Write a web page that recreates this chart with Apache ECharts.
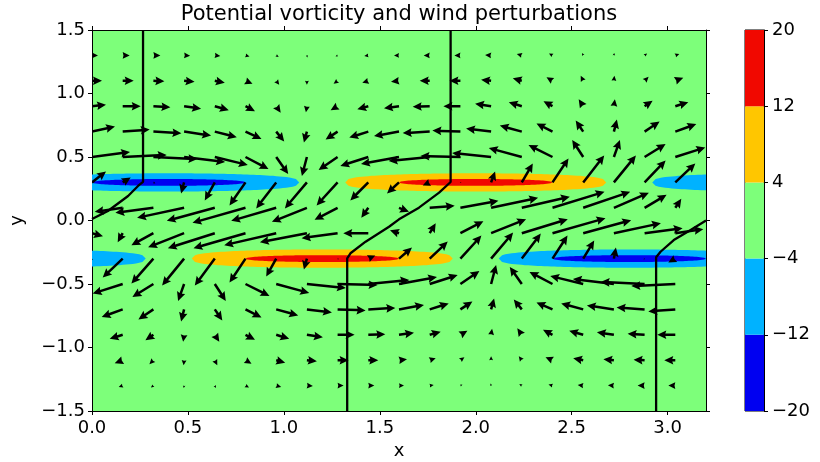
<!DOCTYPE html>
<html>
<head>
<meta charset="utf-8">
<script src="https://cdn.jsdelivr.net/npm/echarts@6/dist/echarts.min.js"></script>
<style>
  html, body { margin: 0; padding: 0; background: #fff; }
  #main { width: 820px; height: 462px; }
</style>
</head>
<body>
<div id="main"></div>
<script>
// grid of the quiver (tails of the arrows)
var gridX = [0, 0.16, 0.32, 0.48, 0.64, 0.80, 0.96, 1.12, 1.28, 1.44, 1.60, 1.76, 1.92, 2.08, 2.24, 2.40, 2.56, 2.72, 2.88, 3.04];
var gridY = [1.3, 1.1, 0.9, 0.7, 0.5, 0.3, 0.1, -0.1, -0.3, -0.5, -0.7, -0.9, -1.1, -1.3];

// wind perturbation, one row per gridY value
var windU = [
  [0.6, 0.7, 0.7, 0.6, 0.55, 0.4, 0.25, 0.05, -0.2, -0.4, -0.5, -0.6, -0.6, -0.6, -0.5, -0.35, -0.1, 0.03, 0.25, 0.4],
  [1.0, 1.1, 1.1, 1.05, 1.0, 0.7, 0.3, 0, -0.4, -0.6, -0.8, -1.0, -1.1, -1.0, -0.9, -0.6, -0.25, 0.05, 0.4, 0.8],
  [1.4, 1.8, 1.7, 1.7, 1.4, 0.95, 0.45, -0.1, -0.7, -1.1, -1.5, -1.7, -1.7, -1.6, -1.3, -0.9, -0.45, 0.1, 0.8, 1.3],
  [2.3, 2.7, 2.8, 2.7, 2.2, 1.6, 0.8, -0.3, -1.2, -1.9, -2.5, -2.7, -2.8, -2.5, -2.2, -1.6, -0.75, 0.3, 1.5, 2.1],
  [3.8, 4.4, 4.4, 4.1, 3.3, 2.3, 1.2, -0.5, -1.9, -2.8, -3.8, -4.1, -4.0, -3.9, -3.3, -2.4, -1.1, 0.6, 2.1, 3.0],
  [1.4, 0.8, 0.2, -0.3, -1.0, -1.6, -2.0, -2.2, -2.1, -1.8, -1.2, -0.7, 0.1, 0.4, 1.1, 1.6, 2.1, 2.2, 2.1, 2.0],
  [-1.1, -2.8, -3.8, -4.7, -4.8, -5.3, -4.5, -3.5, -2.3, -0.7, 1.0, 2.5, 3.8, 4.7, 4.8, 5.2, 4.7, 3.5, 2.2, 0.6],
  [1.1, -0.5, -2.2, -3.6, -4.7, -5.2, -5.2, -4.7, -3.6, -2.5, -0.9, 0.6, 2.3, 3.5, 4.6, 5.3, 4.8, 4.7, 3.8, 2.8],
  [-1.4, -2.0, -2.2, -2.2, -2.0, -1.6, -1.0, -0.3, 0.1, 0.7, 1.3, 1.8, 2.1, 2.2, 1.9, 1.5, 1.1, 0.2, -0.1, -0.7],
  [-3.8, -3.0, -2.1, -0.6, 1.1, 2.4, 3.3, 3.9, 4.0, 4.1, 3.8, 2.8, 1.9, 0.5, -1.2, -2.3, -3.3, -4.1, -4.4, -4.4],
  [-2.3, -2.1, -1.5, -0.3, 0.75, 1.6, 2.2, 2.5, 2.8, 2.7, 2.5, 1.9, 1.2, 0.3, -0.8, -1.6, -2.2, -2.7, -2.8, -2.7],
  [-1.4, -1.3, -0.8, -0.1, 0.45, 0.95, 1.3, 1.6, 1.7, 1.7, 1.5, 1.1, 0.7, 0.1, -0.45, -0.95, -1.4, -1.7, -1.7, -1.8],
  [-1.0, -0.8, -0.4, -0.05, 0.25, 0.6, 0.9, 1.0, 1.1, 1.0, 0.8, 0.6, 0.4, 0, -0.3, -0.7, -1.0, -1.05, -1.1, -1.1],
  [-0.6, -0.4, -0.25, -0.03, 0.1, 0.35, 0.5, 0.6, 0.6, 0.6, 0.5, 0.4, 0.2, -0.05, -0.25, -0.4, -0.55, -0.6, -0.7, -0.7]
];
var windV = [
  [0, 0, 0, -0.03, -0.05, -0.1, -0.15, -0.2, -0.1, -0.05, 0, 0, 0, 0.05, 0.15, 0.2, 0.25, 0.25, 0.2, 0.15],
  [0, 0, -0.05, -0.1, -0.2, -0.3, -0.4, -0.4, -0.3, -0.2, -0.1, 0, 0, 0.1, 0.25, 0.35, 0.5, 0.5, 0.4, 0.3],
  [0.15, 0, -0.1, -0.25, -0.4, -0.5, -0.65, -0.6, -0.4, -0.3, -0.2, -0.05, 0, 0.25, 0.4, 0.5, 0.7, 0.7, 0.55, 0.4],
  [0.5, 0.2, -0.17, -0.4, -0.57, -0.73, -1.0, -1.1, -0.8, -0.6, -0.45, -0.15, 0.1, 0.3, 0.6, 0.8, 1.1, 1.2, 1.0, 0.75],
  [0.5, 0.2, -0.2, -0.5, -0.8, -1.2, -1.7, -1.9, -1.3, -0.9, -0.7, -0.4, 0.1, 0.4, 0.9, 1.2, 1.7, 1.7, 1.3, 0.95],
  [1.1, 0.5, -0.1, -1.1, -1.8, -2.3, -2.6, -2.6, -2.3, -1.8, -1.1, -0.3, -0.05, 1.1, 1.9, 2.4, 2.7, 2.7, 2.2, 1.9],
  [0.3, -0.4, -0.5, -1.0, -1.3, -1.5, -1.3, -1.4, -1.2, -1.0, -0.4, 0.2, 0.7, 1.0, 1.1, 1.6, 1.6, 1.5, 1.3, 0.9],
  [-0.3, -0.9, -1.2, -1.4, -1.5, -1.5, -1.2, -0.9, -0.5, 0, 0.3, 1.0, 1.2, 1.4, 1.4, 1.5, 1.3, 1.0, 0.5, 0.4],
  [-1.1, -1.9, -2.5, -2.7, -2.7, -2.4, -1.8, -1.1, -0.1, 0.3, 1.1, 1.7, 2.3, 2.6, 2.5, 2.3, 1.8, 1.1, -0.1, -0.4],
  [-0.5, -0.95, -1.3, -1.7, -1.7, -1.2, -0.9, -0.4, -0.1, 0.4, 0.7, 0.9, 1.3, 1.9, 1.7, 1.2, 0.8, 0.5, 0.2, -0.2],
  [-0.5, -0.75, -1.0, -1.2, -1.1, -0.8, -0.6, -0.3, -0.1, 0.15, 0.45, 0.6, 0.8, 1.1, 1.0, 0.7, 0.6, 0.4, 0.2, -0.2],
  [-0.15, -0.4, -0.55, -0.7, -0.7, -0.5, -0.4, -0.25, 0, 0.05, 0.2, 0.3, 0.4, 0.6, 0.65, 0.5, 0.4, 0.25, 0.1, 0],
  [0, -0.3, -0.4, -0.5, -0.5, -0.35, -0.25, -0.1, 0, 0, 0.1, 0.2, 0.3, 0.4, 0.4, 0.3, 0.2, 0.1, 0.05, 0],
  [0, -0.15, -0.2, -0.25, -0.25, -0.2, -0.15, -0.05, 0, 0, 0, 0.05, 0.1, 0.2, 0.15, 0.1, 0.05, 0.03, 0, 0]
];

// PV lobes (centre x, centre y, sign); copies past the edges for the periodic wrap
var lobeX = [0.4, 3.6, 2.0, 1.2, 2.8, -0.4];
var lobeY = [0.3, 0.3, 0.3, -0.3, -0.3, -0.3];
var lobeSign = [-1, -1, 1, 1, -1, -1];
// half width / half height of the |PV|>4 and |PV|>12 regions
var bandHalfWidth = [0.68, 0.40];
var bandHalfHeight = [0.072, 0.027];

// colour levels
var levels = [-20, -12, -4, 4, 12, 20];
var bandColors = ['#0000f1', '#00b2ff', '#7dff7a', '#ffc600', '#f10800'];

// material lines
var lineA1 = [[0.266, 1.5], [0.266, 0.305], [0.24, 0.272], [0.188, 0.193], [0.083, 0.075], [0, 0.012]];
var lineA2 = [[3.2, 0.0], [3.12, -0.075], [3.032, -0.154], [2.963, -0.246], [2.94, -0.29], [2.94, -1.5]];
var lineB = [[1.869, 1.5], [1.869, 0.303], [1.809, 0.219], [1.704, 0.101], [1.600, 0.009], [1.548, -0.049],
             [1.426, -0.167], [1.347, -0.258], [1.330, -0.298], [1.330, -1.5]];

var xTicks = [0, 0.5, 1.0, 1.5, 2.0, 2.5, 3.0];

var ARROW_PX = 10;   // px per wind unit
var SHAFT = 1.25, HEAD_LEN = 9, HEAD_AX = 8, HEAD_W = 4.3;
var FONT = 'DejaVu Sans';

function minus(s) { return String(s).replace('-', '\u2212'); }

var quiverData = [];
gridY.forEach(function (y, r) {
    gridX.forEach(function (x, c) {
        quiverData.push([x, y, windU[r][c], windV[r][c]]);
    });
});

var lobeData = [];
[0, 1].forEach(function (b) {
    lobeX.forEach(function (x, i) {
        var idx = lobeSign[i] > 0 ? (b === 0 ? 3 : 4) : (b === 0 ? 1 : 0);
        lobeData.push([x, lobeY[i], bandHalfWidth[b], bandHalfHeight[b], idx, b]);
    });
});

var barData = [];
for (var i = 0; i < levels.length - 1; i++) barData.push([levels[i], levels[i + 1], i]);

function renderArrow(params, api) {
    var p = api.coord([api.value(0), api.value(1)]);
    var dx = api.value(2) * ARROW_PX, dy = -api.value(3) * ARROW_PX;
    var L = Math.sqrt(dx * dx + dy * dy);
    if (L < 0.6) return;
    var c = dx / L, s = dy / L, pts;
    if (L >= HEAD_LEN) {
        pts = [[0, -SHAFT], [L - HEAD_AX, -SHAFT], [L - HEAD_LEN, -HEAD_W], [L, 0],
               [L - HEAD_LEN, HEAD_W], [L - HEAD_AX, SHAFT], [0, SHAFT]];
    } else {
        var k = L / HEAD_LEN;
        pts = [[0, -HEAD_W * k], [L, 0], [0, HEAD_W * k], [(HEAD_LEN - HEAD_AX) * k, 0]];
    }
    pts = pts.map(function (q) {
        return [p[0] + q[0] * c - q[1] * s, p[1] + q[0] * s + q[1] * c];
    });
    return { type: 'polygon', shape: { points: pts }, style: { fill: '#000' } };
}

function renderLens(params, api) {
    var cx = api.value(0), cy = api.value(1), hw = api.value(2), hh = api.value(3);
    var col = bandColors[api.value(4)];
    var ex = api.value(5) === 0 ? 0.33 : 0.45;
    var top = [], bot = [], N = 80;
    for (var i = 0; i <= N; i++) {
        var t = -1 + 2 * i / N;
        var h = hh * Math.pow(Math.max(0, 1 - t * t), ex);
        top.push(api.coord([cx + t * hw, cy + h]));
        bot.unshift(api.coord([cx + t * hw, cy - h]));
    }
    return { type: 'polygon', shape: { points: top.concat(bot) }, style: { fill: col } };
}

function renderBand(params, api) {
    var a = api.coord([0, api.value(1)]);
    var b = api.coord([1, api.value(0)]);
    return { type: 'rect', shape: { x: a[0], y: a[1], width: b[0] - a[0], height: b[1] - a[1] },
             style: { fill: bandColors[api.value(2)] } };
}

var axisLine = { show: true, onZero: false, lineStyle: { color: '#000', width: 1 } };
var tickOut = { show: true, inside: false, length: 4, lineStyle: { color: '#000', width: 1 } };
var labelStyle = { color: '#000', fontSize: 18, fontFamily: FONT };

var chart = echarts.init(document.getElementById('main'), null, { renderer: 'canvas' });
chart.setOption({
    animation: false,
    backgroundColor: '#fff',
    graphic: [{
        type: 'text', x: 399, y: 4,
        style: { text: 'Potential vorticity and wind perturbations', fill: '#000',
                 font: '21px "DejaVu Sans"', textAlign: 'center', textVerticalAlign: 'top' }
    }],
    grid: [
        { left: 92, top: 30, width: 614, height: 381, show: true, backgroundColor: bandColors[2], borderWidth: 0,
          outerBoundsMode: 'none', containLabel: false },
        { left: 745, top: 30, width: 19, height: 381, show: true, borderColor: '#000', borderWidth: 1,
          outerBoundsMode: 'none', containLabel: false }
    ],
    xAxis: [
        { gridIndex: 0, type: 'value', min: 0, max: 3.2, position: 'bottom',
          axisLine: axisLine, axisTick: Object.assign({ customValues: xTicks }, tickOut),
          axisLabel: Object.assign({ customValues: xTicks, margin: 8, formatter: function (v) { return v.toFixed(1); } }, labelStyle),
          splitLine: { show: false },
          name: 'x', nameLocation: 'middle', nameGap: 31, nameTextStyle: labelStyle },
        { gridIndex: 0, type: 'value', min: 0, max: 3.2, position: 'top',
          axisLine: axisLine, axisTick: Object.assign({ customValues: xTicks }, tickOut),
          axisLabel: { show: false }, splitLine: { show: false } },
        { gridIndex: 1, type: 'value', min: 0, max: 1, show: false }
    ],
    yAxis: [
        { gridIndex: 0, type: 'value', min: -1.5, max: 1.5, interval: 0.5, position: 'left',
          axisLine: axisLine, axisTick: tickOut,
          axisLabel: Object.assign({ margin: 7, formatter: function (v) { return minus(v.toFixed(1)); } }, labelStyle),
          splitLine: { show: false },
          name: 'y', nameLocation: 'middle', nameGap: 66, nameRotate: 90, nameTextStyle: labelStyle },
        { gridIndex: 0, type: 'value', min: -1.5, max: 1.5, interval: 0.5, position: 'right',
          axisLine: axisLine, axisTick: tickOut, axisLabel: { show: false }, splitLine: { show: false } },
        { gridIndex: 1, type: 'value', min: -20, max: 20, interval: 8, position: 'right',
          axisLine: axisLine, axisTick: tickOut,
          axisLabel: Object.assign({ margin: 8, formatter: function (v) { return minus(v); } }, labelStyle),
          splitLine: { show: false } }
    ],
    series: [
        { type: 'custom', xAxisIndex: 0, yAxisIndex: 0, clip: true, silent: true, z: 1,
          renderItem: renderLens, data: lobeData },
        { type: 'custom', xAxisIndex: 0, yAxisIndex: 0, clip: true, silent: true, z: 3,
          renderItem: renderArrow, data: quiverData },
        { type: 'line', xAxisIndex: 0, yAxisIndex: 0, data: lineA1, showSymbol: false, symbol: 'none', z: 4,
          lineStyle: { color: '#000', width: 2.3 }, silent: true },
        { type: 'line', xAxisIndex: 0, yAxisIndex: 0, data: lineA2, showSymbol: false, symbol: 'none', z: 4,
          lineStyle: { color: '#000', width: 2.3 }, silent: true },
        { type: 'line', xAxisIndex: 0, yAxisIndex: 0, data: lineB, showSymbol: false, symbol: 'none', z: 4,
          lineStyle: { color: '#000', width: 2.3 }, silent: true },
        { type: 'custom', xAxisIndex: 2, yAxisIndex: 2, silent: true,
          renderItem: renderBand, data: barData }
    ]
});
</script>
</body>
</html>
